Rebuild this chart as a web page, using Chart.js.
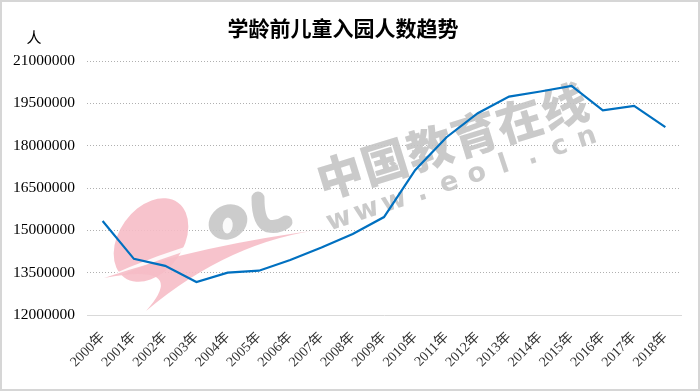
<!DOCTYPE html>
<html><head><meta charset="utf-8">
<script src="https://cdn.jsdelivr.net/npm/chart.js@4"></script>
<style>html,body{margin:0;padding:0;background:#fff}#wrap{width:700px;height:391px;position:relative}</style>
</head><body><div id="wrap"><canvas id="c" width="700" height="391"></canvas></div>
<script>
const categories = ["2000年","2001年","2002年","2003年","2004年","2005年","2006年","2007年","2008年","2009年","2010年","2011年","2012年","2013年","2014年","2015年","2016年","2017年","2018年"];
const enrolment = [15330000,13990000,13740000,13170000,13500000,13570000,13950000,14390000,14870000,15470000,17140000,18300000,19150000,19740000,19920000,20120000,19250000,19410000,18660000];
const yMin = 12000000, yMax = 21000000, yStep = 1500000;
const titleText = "学龄前儿童入园人数趋势";
const unitText = "人";

const decor = {
  id: 'decor',
  beforeDatasetsDraw(chart) {
    const ctx = chart.ctx;
    ctx.save();
    ctx.globalAlpha = 0.9;
    ctx.fillStyle = '#f6bcc6';
    ctx.save();
    ctx.translate(151, 240);
    ctx.rotate(-0.95);
    ctx.beginPath();
    ctx.ellipse(0, 0, 46, 32, 0, 0, Math.PI * 2);
    ctx.fill();
    ctx.restore();
    ctx.strokeStyle = '#ffffff';
    ctx.lineWidth = 4;
    ctx.beginPath();
    ctx.moveTo(100, 282);
    ctx.quadraticCurveTo(160, 255, 215, 240);
    ctx.stroke();
    ctx.fillStyle = '#f6bcc6';
    ctx.beginPath();
    ctx.moveTo(104, 278);
    ctx.quadraticCurveTo(200, 245, 326, 229);
    ctx.quadraticCurveTo(230, 240, 146, 311);
    ctx.quadraticCurveTo(190, 262, 104, 278);
    ctx.closePath();
    ctx.fill();
    ctx.fillStyle = '#c6c6c6';
    ctx.save();
    ctx.translate(228, 222);
    ctx.rotate(-0.5);
    ctx.beginPath();
    ctx.ellipse(0, 0, 20, 17, 0, 0, Math.PI * 2);
    ctx.fill();
    ctx.fillStyle = '#ffffff';
    ctx.beginPath();
    ctx.ellipse(-2, 3, 5, 8, 0.6, 0, Math.PI * 2);
    ctx.fill();
    ctx.restore();
    ctx.strokeStyle = '#c6c6c6';
    ctx.lineWidth = 13;
    ctx.lineCap = 'round';
    ctx.beginPath();
    ctx.moveTo(258, 198);
    ctx.quadraticCurveTo(258, 222, 268, 226);
    ctx.quadraticCurveTo(278, 228, 286, 222);
    ctx.stroke();
    ctx.fillStyle = '#c4c4c4';
    ctx.save();
    ctx.translate(452, 141);
    ctx.rotate(-0.30);
    ctx.font = '900 46px "Noto Sans CJK SC"';
    ctx.textAlign = 'center';
    ctx.textBaseline = 'middle';
    Array.from("中国教育在线").forEach((ch, i) => ctx.fillText(ch, (i - 2.5) * 47, 0));
    ctx.restore();
    ctx.save();
    ctx.translate(463, 179);
    ctx.rotate(-0.32);
    ctx.font = 'bold 27px "DejaVu Sans"';
    ctx.textAlign = 'center';
    ctx.textBaseline = 'middle';
    Array.from("www.eol.cn").forEach((ch, i) => ctx.fillText(ch, (i - 4.5) * 29, 0));
    ctx.restore();
    ctx.restore();
  },
  afterDraw(chart) {
    const ctx = chart.ctx;
    ctx.save();
    ctx.fillStyle = '#000';
    ctx.font = 'bold 21px "Noto Sans CJK SC"';
    ctx.textAlign = 'center';
    ctx.textBaseline = 'middle';
    ctx.fillText(titleText, 343, 28);
    ctx.font = '15px "Noto Sans CJK SC"';
    ctx.fillText(unitText, 34, 37);
    ctx.strokeStyle = '#d6d6d6';
    ctx.lineWidth = 2;
    ctx.strokeRect(1, 1, 698, 389);
    ctx.restore();
  }
};

new Chart(document.getElementById('c'), {
  type: 'line',
  data: {
    labels: categories,
    datasets: [{
      data: enrolment,
      borderColor: '#0070C0',
      borderWidth: 2.2,
      pointRadius: 0,
      tension: 0,
      fill: false
    }]
  },
  options: {
    responsive: false,
    animation: false,
    layout: { padding: { left: 2, right: 19, top: 61, bottom: 0 } },
    plugins: { legend: { display: false }, tooltip: { enabled: false }, title: { display: false } },
    scales: {
      x: {
        offset: true,
        grid: { display: false, drawTicks: false, offset: true },
        border: { display: true, color: '#d9d9d9', width: 1 },
        ticks: {
          autoSkip: false, maxRotation: 45, minRotation: 45, padding: 14,
          color: '#333', font: { family: '"Liberation Serif", "Noto Sans CJK SC"', size: 14 }
        },
        afterFit(s) { s.height = 76; }
      },
      y: {
        min: yMin, max: yMax,
        grid: {
          drawTicks: false,
          color: (c) => c.tick && c.tick.value === yMin ? 'rgba(0,0,0,0)' : '#b0b0b0',
          lineWidth: 1
        },
        border: { display: false, dash: [1, 2] },
        ticks: {
          stepSize: yStep, padding: 12, color: '#000',
          font: { family: '"Liberation Serif"', size: 15.5 },
          callback: (v) => String(v)
        },
        afterFit(s) { s.width = 85; }
      }
    }
  },
  plugins: [decor]
});
</script></body></html>
